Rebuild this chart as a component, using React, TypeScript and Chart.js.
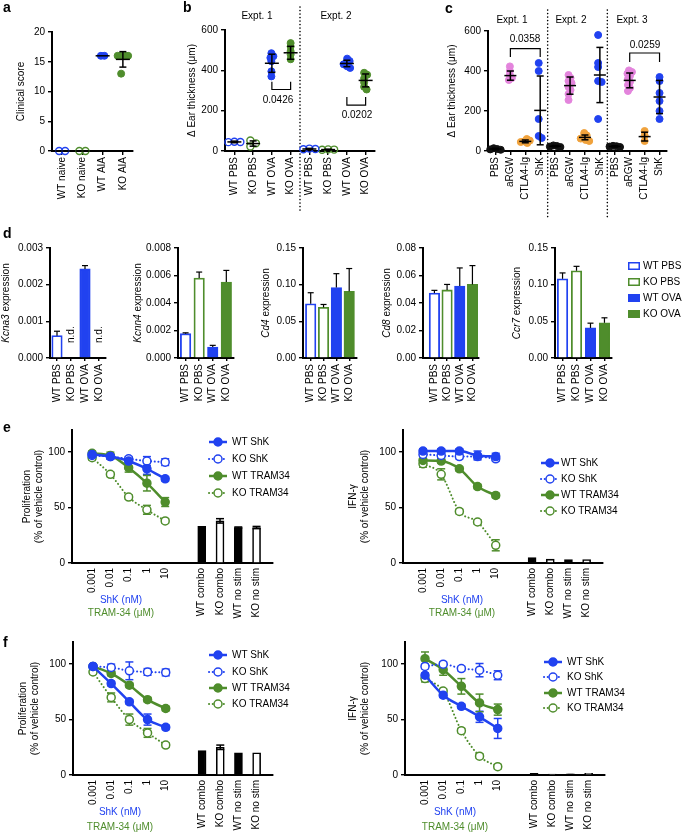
import React, { useEffect, useRef } from 'react';
import { Chart, registerables } from 'chart.js';

Chart.register(...registerables);

const FONT = "'Liberation Sans', Arial, Helvetica, sans-serif";
Chart.defaults.font.family = FONT;
Chart.defaults.font.size = 10;
Chart.defaults.color = '#000';

const BLUE = '#2142f0';
const GREEN = '#4f8d2c';
const PINK = '#e384dc';
const ORANGE = '#f0a23c';
const BLACK = '#111111';

// ================= DATA =================
// panel a
const aLabels = ['WT naive', 'KO naive', 'WT AIA', 'KO AIA'];
const aWTnaive = [0, 0];
const aKOnaive = [0, 0];
const aWTAIA = [16, 16];
const aKOAIA = [16, 16, 16, 16, 13];
const aMeans = [0, 0, 16, 15.4];
const aSDs = [0, 0, 0, 1.3];
const aYTicks = [0, 5, 10, 15, 20];

// panel b
const bLabels = ['WT PBS', 'KO PBS', 'WT OVA', 'KO OVA', 'WT PBS', 'KO PBS', 'WT OVA', 'KO OVA'];
const bE1WTPBS = [46, 44, 45];
const bE1KOPBS = [52, 38, 22];
const bE1WTOVA = [485, 470, 462, 445, 395, 370];
const bE1KOOVA = [535, 518, 495, 478, 455];
const bE2WTPBS = [12, 10, 9];
const bE2KOPBS = [8, 6, 7];
const bE2WTOVA = [458, 446, 438, 430, 420, 412];
const bE2KOOVA = [388, 378, 360, 340, 318, 305];
const bMeans = [45, 37, 435, 487, 10, 7, 434, 350];
const bSDs = [4, 13, 45, 32, 3, 2, 16, 32];
const bYTicks = [0, 200, 400, 600];

// panel c
const cLabels = ['PBS', 'aRGW', 'CTLA4-Ig', 'ShK', 'PBS', 'aRGW', 'CTLA4-Ig', 'ShK', 'PBS', 'aRGW', 'CTLA4-Ig', 'ShK'];
const cE1PBS = [14, 10, 8, 6];
const cE1aRGW = [423, 400, 380, 365, 355];
const cE1CTLA4 = [60, 52, 48, 45, 40];
const cE1ShK = [440, 400, 160, 75, 65];
const cE2PBS = [28, 25, 22, 20];
const cE2aRGW = [380, 365, 350, 340, 320, 305, 285, 255];
const cE2CTLA4 = [90, 78, 70, 62, 55, 50];
const cE2ShK = [580, 440, 420, 350, 345, 160];
const cE3PBS = [26, 24, 20, 22];
const cE3aRGW = [403, 395, 387, 375, 360, 345, 330, 315, 300];
const cE3CTLA4 = [100, 78, 50];
const cE3ShK = [370, 350, 290, 250, 200, 160];
const cMeans = [10, 377, 48, 203, 24, 327, 68, 380, 23, 353, 72, 270];
const cSDs = [4, 23, 7, 172, 3, 43, 12, 138, 3, 37, 22, 83];
const cYTicks = [0, 200, 400, 600];

// panel d
const dLabels = ['WT PBS', 'KO PBS', 'WT OVA', 'KO OVA'];
const kcna3Vals = [0.00061, null, 0.00243, null];
const kcna3Err = [0.00012, 0, 0.00009, 0];
const kcnn4Vals = [0.00177, 0.00582, 0.0008, 0.00553];
const kcnn4Err = [0.00006, 0.00043, 0.00012, 0.00084];
const cd4Vals = [0.074, 0.069, 0.096, 0.091];
const cd4Err = [0.015, 0.004, 0.019, 0.031];
const cd8Vals = [0.0472, 0.0495, 0.0523, 0.0535];
const cd8Err = [0.002, 0.004, 0.0132, 0.0137];
const ccr7Vals = [0.108, 0.119, 0.041, 0.048];
const ccr7Err = [0.008, 0.006, 0.0065, 0.0068];

// panels e / f
const doseLabels = ['0.001', '0.01', '0.1', '1', '10'];
const ctrlLabels = ['WT combo', 'KO combo', 'WT no stim', 'KO no stim'];
const seriesNames = ['WT ShK', 'KO ShK', 'WT TRAM34', 'KO TRAM34'];

const eProWTShK = [98, 96, 92, 85, 76];
const eProWTShKErr = [2, 2, 2, 5, 2];
const eProKOShK = [97, 96, 94, 92, 91];
const eProKOShKErr = [2, 2, 2, 4, 3];
const eProWTTram = [99, 97, 86, 72, 55];
const eProWTTramErr = [2, 3, 4, 7, 4];
const eProKOTram = [95, 80, 59.5, 48, 38];
const eProKOTramErr = [2, 2, 2, 4, 2];
const eProBars = [33, 38, 32, 32];
const eProBarsErr = [0, 2, 0.5, 1];

const eIfnWTShK = [101, 101, 101, 97, 96];
const eIfnWTShKErr = [2, 2, 2, 4, 3];
const eIfnKOShK = [98, 97, 96, 96, 94];
const eIfnKOShKErr = [2, 2, 2, 2, 2];
const eIfnWTTram = [92.5, 92, 85, 69, 61];
const eIfnWTTramErr = [2, 2, 2, 2, 2];
const eIfnKOTram = [89.5, 80, 46.5, 37, 16];
const eIfnKOTramErr = [3, 5, 2, 2, 5];
const eIfnBars = [5, 3.5, 3, 3];
const eIfnBarsErr = [0, 0, 0, 0];

const fProWTShK = [98, 82.5, 66, 50, 43];
const fProWTShKErr = [2, 2, 2, 5, 2];
const fProKOShK = [98, 97, 94, 93, 92.5];
const fProKOShKErr = [2, 3, 8, 3, 3];
const fProWTTram = [98, 91.6, 81, 68, 60];
const fProWTTramErr = [2, 2, 2, 2, 2];
const fProKOTram = [93, 70, 50, 38, 27];
const fProKOTramErr = [2, 4, 5, 4, 2];
const fProBars = [22, 25, 20, 20];
const fProBarsErr = [0, 2, 0, 0];

const fIfnWTShK = [90, 72, 62, 52.5, 42];
const fIfnWTShKErr = [2, 2, 2, 5, 9];
const fIfnKOShK = [98, 100, 96, 94.6, 90];
const fIfnKOShKErr = [2, 2, 2, 6, 4];
const fIfnWTTram = [105, 95, 80, 65, 59];
const fIfnWTTramErr = [6, 5, 7, 8, 5];
const fIfnKOTram = [87, 75.7, 40, 17, 7.5];
const fIfnKOTramErr = [3, 2, 2, 2, 2];
const fIfnBars = [1.5, 0.8, 1, 1.5];
const fIfnBarsErr = [0, 0, 0, 0];

const doseYTicks = [0, 50, 100];

// ================= HELPERS =================
type Rect = { x: number; y: number; w: number; h: number };
type Plot = { l: number; t: number; r: number; b: number };

function seg(ctx: any, x1: number, y1: number, x2: number, y2: number) {
  ctx.beginPath();
  ctx.moveTo(x1, y1);
  ctx.lineTo(x2, y2);
  ctx.stroke();
}

function text(ctx: any, rect: Rect, s: string, x: number, y: number, o: any = {}) {
  ctx.save();
  ctx.font = `${o.italic ? 'italic ' : ''}${o.bold ? 'bold ' : ''}${o.size || 10}px ${FONT}`;
  ctx.fillStyle = o.color || '#000';
  ctx.textAlign = o.align || 'center';
  ctx.textBaseline = o.baseline || 'middle';
  ctx.fillText(s, x - rect.x, y - rect.y);
  ctx.restore();
}

function yTitle(ctx: any, chart: any, rect: Rect, x: number, lines: { t: string; i?: boolean }[][]) {
  const cy = (chart.chartArea.top + chart.chartArea.bottom) / 2;
  lines.forEach((parts, li) => {
    ctx.save();
    ctx.translate(x - rect.x + li * 12, cy);
    ctx.rotate(-Math.PI / 2);
    ctx.textBaseline = 'middle';
    ctx.textAlign = 'left';
    ctx.fillStyle = '#000';
    const fonts = parts.map((p) => `${p.i ? 'italic ' : ''}10px ${FONT}`);
    let total = 0;
    parts.forEach((p, k) => {
      ctx.font = fonts[k];
      total += ctx.measureText(p.t).width;
    });
    let cx = -total / 2;
    parts.forEach((p, k) => {
      ctx.font = fonts[k];
      ctx.fillText(p.t, cx, 0);
      cx += ctx.measureText(p.t).width;
    });
    ctx.restore();
  });
}

function letter(ctx: any, rect: Rect, s: string, x: number, y: number) {
  text(ctx, rect, s, x, y, { bold: true, size: 14, align: 'left', baseline: 'alphabetic' });
}

function swarm(vals: number[], cat: number, pxV: number, pxC: number, minDist: number) {
  const order = vals.map((_, i) => i).sort((p, q) => vals[q] - vals[p]);
  const placed: { dx: number; y: number }[] = [];
  for (const i of order) {
    const y = vals[i] * pxV;
    let best = 0;
    for (let k = 0; k < 80; k++) {
      const cand = k === 0 ? 0 : (k % 2 === 1 ? 1 : -1) * Math.ceil(k / 2) * 0.5;
      if (placed.every((p) => Math.hypot(p.dx - cand, p.y - y) >= minDist - 1e-6)) {
        best = cand;
        break;
      }
    }
    placed.push({ dx: best, y });
  }
  const lo = Math.min(...placed.map((p) => p.dx));
  const hi = Math.max(...placed.map((p) => p.dx));
  const shift = (lo + hi) / 2;
  return placed.map((p) => ({ x: cat + (p.dx - shift) / pxC, y: p.y / pxV }));
}

function swarmSets(groups: number[][], colors: string[], filled: boolean[], plot: Plot, yMin: number, yMax: number, xMin: number, xMax: number) {
  const pxV = (plot.b - plot.t) / (yMax - yMin);
  const pxC = (plot.r - plot.l) / (xMax - xMin);
  return groups.map((g, i) => ({
    type: 'scatter',
    data: swarm(g, i, pxV, pxC, filled[i] ? 3.4 : 6),
    pointRadius: 3.5,
    pointBackgroundColor: filled[i] ? colors[i] : 'rgba(255,255,255,0)',
    pointBorderColor: colors[i],
    pointBorderWidth: filled[i] ? 1 : 1.4,
    showLine: false,
    clip: false,
  }));
}

function meanSD(ctx: any, chart: any, means: number[], sds: number[], half: number, cap: number) {
  const xs = chart.scales.x;
  const ys = chart.scales.y;
  ctx.strokeStyle = '#000';
  ctx.lineWidth = 1.5;
  means.forEach((m, i) => {
    const xc = xs.getPixelForValue(i);
    const ym = ys.getPixelForValue(m);
    seg(ctx, xc - half, ym, xc + half, ym);
    if (sds[i] > 0) {
      const y1 = ys.getPixelForValue(m + sds[i]);
      const y2 = ys.getPixelForValue(Math.max(0, m - sds[i]));
      seg(ctx, xc, y1, xc, y2);
      seg(ctx, xc - cap, y1, xc + cap, y1);
      seg(ctx, xc - cap, y2, xc + cap, y2);
    }
  });
}

function bracket(ctx: any, chart: any, a: number, b: number, yv: number, tipv: number) {
  const xs = chart.scales.x;
  const ys = chart.scales.y;
  const x1 = xs.getPixelForValue(a);
  const x2 = xs.getPixelForValue(b);
  const y = ys.getPixelForValue(yv);
  const yt = ys.getPixelForValue(tipv);
  ctx.strokeStyle = '#000';
  ctx.lineWidth = 1.2;
  ctx.beginPath();
  ctx.moveTo(x1, yt);
  ctx.lineTo(x1, y);
  ctx.lineTo(x2, y);
  ctx.lineTo(x2, yt);
  ctx.stroke();
}

function vdots(ctx: any, chart: any, rect: Rect, v: number, y1: number, y2: number) {
  const x = chart.scales.x.getPixelForValue(v);
  ctx.save();
  ctx.strokeStyle = '#000';
  ctx.lineWidth = 1.6;
  ctx.lineCap = 'round';
  ctx.setLineDash([0.1, 3.4]);
  seg(ctx, x, y1 - rect.y, x, y2 - rect.y);
  ctx.restore();
}

let pid = 0;
function baseConfig(o: any) {
  const { rect, plot } = o;
  const id = 'extras' + pid++;
  return {
    type: 'scatter',
    data: { datasets: o.datasets },
    options: {
      responsive: false,
      maintainAspectRatio: false,
      animation: false,
      devicePixelRatio: 1,
      events: [],
      layout: { padding: { left: 0, top: plot.t - rect.y, right: rect.x + rect.w - plot.r, bottom: 0 } },
      plugins: { legend: { display: false }, tooltip: { enabled: false }, title: { display: false } },
      scales: {
        x: {
          type: 'linear',
          position: 'bottom',
          min: o.xMin,
          max: o.xMax,
          offset: false,
          grid: { display: o.xTickLen > 0, drawOnChartArea: false, drawTicks: o.xTickLen > 0, tickLength: o.xTickLen, color: '#000', lineWidth: 1.4, offset: false },
          border: { display: true, color: '#000', width: 2 },
          afterBuildTicks: (s: any) => {
            s.ticks = o.xTicks.map((v: number) => ({ value: v }));
          },
          afterFit: (s: any) => {
            s.height = rect.y + rect.h - plot.b;
          },
          ticks: {
            autoSkip: false,
            minRotation: 90,
            maxRotation: 90,
            padding: o.xPad,
            color: '#000',
            font: { size: 10, family: FONT },
            callback: (v: any) => o.xLabel(v),
          },
        },
        y: {
          type: 'linear',
          position: 'left',
          min: o.yMin,
          max: o.yMax,
          grid: { display: true, drawOnChartArea: false, drawTicks: true, tickLength: 4, color: '#000', lineWidth: 1.4 },
          border: { display: true, color: '#000', width: 2 },
          afterBuildTicks: (s: any) => {
            s.ticks = o.yTicks.map((v: number) => ({ value: v }));
          },
          afterFit: (s: any) => {
            s.width = plot.l - rect.x;
          },
          ticks: { padding: 3, color: '#000', font: { size: 10, family: FONT }, callback: (v: any) => o.yFmt(v) },
        },
      },
    },
    plugins: [
      {
        id,
        beforeDatasetsDraw(chart: any) {
          if (o.before) {
            const c = chart.ctx;
            c.save();
            o.before(c, chart);
            c.restore();
          }
        },
        afterDatasetsDraw(chart: any) {
          if (o.after) {
            const c = chart.ctx;
            c.save();
            o.after(c, chart);
            c.restore();
          }
        },
      },
    ],
  };
}

// ================= PANELS =================
const EAR = [[{ t: 'Δ Ear thickness (μm)' }]];

function buildA() {
  const rect = { x: 0, y: 0, w: 140, h: 222 };
  const plot = { l: 52, t: 32, r: 133, b: 151 };
  return baseConfig({
    rect, plot, xMin: -0.5, xMax: 3.5, xTicks: [0, 1, 2, 3], xLabel: (v: number) => aLabels[v] ?? '', xTickLen: 4, xPad: 2,
    yMin: 0, yMax: 20, yTicks: aYTicks, yFmt: (v: number) => String(v),
    datasets: swarmSets([aWTnaive, aKOnaive, aWTAIA, aKOAIA], [BLUE, GREEN, BLUE, GREEN], [false, false, true, true], plot, 0, 20, -0.5, 3.5),
    after: (ctx: any, chart: any) => {
      meanSD(ctx, chart, aMeans, aSDs, 7, 3.5);
      yTitle(ctx, chart, rect, 21, [[{ t: 'Clinical score' }]]);
      letter(ctx, rect, 'a', 3, 12);
    },
  });
}

function buildB() {
  const rect = { x: 178, y: 0, w: 207, h: 222 };
  const plot = { l: 225, t: 30, r: 375, b: 151 };
  return baseConfig({
    rect, plot, xMin: -0.5, xMax: 7.5, xTicks: [0, 1, 2, 3, 4, 5, 6, 7], xLabel: (v: number) => bLabels[v] ?? '', xTickLen: 4, xPad: 2,
    yMin: 0, yMax: 600, yTicks: bYTicks, yFmt: (v: number) => String(v),
    datasets: swarmSets(
      [bE1WTPBS, bE1KOPBS, bE1WTOVA, bE1KOOVA, bE2WTPBS, bE2KOPBS, bE2WTOVA, bE2KOOVA],
      [BLUE, GREEN, BLUE, GREEN, BLUE, GREEN, BLUE, GREEN],
      [false, false, true, true, false, false, true, true],
      plot, 0, 600, -0.5, 7.5,
    ),
    before: (ctx: any, chart: any) => {
      vdots(ctx, chart, rect, 3.5, 7, 213);
    },
    after: (ctx: any, chart: any) => {
      meanSD(ctx, chart, bMeans, bSDs, 7, 3.5);
      bracket(ctx, chart, 2, 3, 305, 343);
      bracket(ctx, chart, 6, 7, 227, 268);
      text(ctx, rect, '0.0426', 278, 100);
      text(ctx, rect, '0.0202', 357, 115);
      text(ctx, rect, 'Expt. 1', 257, 16);
      text(ctx, rect, 'Expt. 2', 336, 16);
      yTitle(ctx, chart, rect, 192, EAR);
      letter(ctx, rect, 'b', 183, 12);
    },
  });
}

function buildC() {
  const rect = { x: 438, y: 0, w: 247, h: 225 };
  const plot = { l: 488, t: 31, r: 667, b: 151 };
  const colors = [BLACK, PINK, ORANGE, BLUE, BLACK, PINK, ORANGE, BLUE, BLACK, PINK, ORANGE, BLUE];
  return baseConfig({
    rect, plot, xMin: -0.5, xMax: 11.5, xTicks: [0, 1, 2, 3, 4, 5, 6, 7, 8, 9, 10, 11], xLabel: (v: number) => cLabels[v] ?? '', xTickLen: 4, xPad: 2,
    yMin: 0, yMax: 600, yTicks: cYTicks, yFmt: (v: number) => String(v),
    datasets: swarmSets(
      [cE1PBS, cE1aRGW, cE1CTLA4, cE1ShK, cE2PBS, cE2aRGW, cE2CTLA4, cE2ShK, cE3PBS, cE3aRGW, cE3CTLA4, cE3ShK],
      colors, colors.map(() => true), plot, 0, 600, -0.5, 11.5,
    ),
    before: (ctx: any, chart: any) => {
      vdots(ctx, chart, rect, 3.5, 10, 218);
      vdots(ctx, chart, rect, 7.5, 10, 218);
    },
    after: (ctx: any, chart: any) => {
      meanSD(ctx, chart, cMeans, cSDs, 6, 3.5);
      bracket(ctx, chart, 1, 3, 512, 470);
      bracket(ctx, chart, 9, 11, 490, 445);
      text(ctx, rect, '0.0358', 525, 39);
      text(ctx, rect, '0.0259', 645, 45);
      text(ctx, rect, 'Expt. 1', 512, 20);
      text(ctx, rect, 'Expt. 2', 571, 20);
      text(ctx, rect, 'Expt. 3', 632, 20);
      yTitle(ctx, chart, rect, 452, EAR);
      letter(ctx, rect, 'c', 445, 13);
    },
  });
}

function buildD(o: any) {
  const rect = { x: o.cx, y: 225, w: o.cw, h: 187 };
  const plot = { l: o.l, t: 248, r: o.r, b: 358 };
  const xs = [0, 1, 2, 3];
  return baseConfig({
    rect, plot, xMin: o.xMin, xMax: o.xMax, xTicks: xs, xLabel: (v: number) => dLabels[v] ?? '', xTickLen: 3, xPad: 3,
    yMin: 0, yMax: o.yMax, yTicks: o.yTicks, yFmt: (v: number) => v.toFixed(o.dec),
    datasets: [
      {
        type: 'bar',
        data: o.vals.map((y: any, i: number) => ({ x: i, y })),
        backgroundColor: ['#ffffff', '#ffffff', BLUE, GREEN],
        borderColor: [BLUE, GREEN, BLUE, GREEN],
        borderWidth: 1.8,
        barThickness: 10.5,
        clip: false,
      },
    ],
    after: (ctx: any, chart: any) => {
      const sx = chart.scales.x;
      const sy = chart.scales.y;
      ctx.strokeStyle = '#000';
      ctx.lineWidth = 1.2;
      o.vals.forEach((v: any, i: number) => {
        if (v == null) {
          ctx.save();
          ctx.translate(sx.getPixelForValue(i), sy.getPixelForValue(0) - 15);
          ctx.rotate(-Math.PI / 2);
          ctx.font = `10px ${FONT}`;
          ctx.fillStyle = '#000';
          ctx.textAlign = 'left';
          ctx.textBaseline = 'middle';
          ctx.fillText('n.d.', 0, 0);
          ctx.restore();
          return;
        }
        const x = sx.getPixelForValue(i);
        const y0 = sy.getPixelForValue(v);
        const y1 = sy.getPixelForValue(v + o.errs[i]);
        seg(ctx, x, y0, x, y1);
        seg(ctx, x - 3, y1, x + 3, y1);
      });
      yTitle(ctx, chart, rect, o.tx, [[{ t: o.gene, i: true }, { t: ' expression' }]]);
      if (o.letter) letter(ctx, rect, 'd', 3, 238);
      if (o.legend) {
        const items = [
          { t: 'WT PBS', fill: '#fff', stroke: BLUE },
          { t: 'KO PBS', fill: '#fff', stroke: GREEN },
          { t: 'WT OVA', fill: BLUE, stroke: BLUE },
          { t: 'KO OVA', fill: GREEN, stroke: GREEN },
        ];
        const ys = [266, 282, 298, 314];
        items.forEach((it, k) => {
          const bx = 628 - rect.x;
          const by = ys[k] - rect.y;
          ctx.fillStyle = it.fill;
          ctx.fillRect(bx, by - 4, 12, 8);
          ctx.strokeStyle = it.stroke;
          ctx.lineWidth = 1.5;
          ctx.strokeRect(bx + 0.75, by - 3.25, 10.5, 6.5);
          text(ctx, rect, it.t, 643, ys[k], { align: 'left' });
        });
      }
    },
  });
}

type Series = { label: string; vals: number[]; errs: number[]; color: string; dashed: boolean };

function mkSeries(v: number[][]): Series[] {
  return [
    { label: seriesNames[0], vals: v[0], errs: v[1], color: BLUE, dashed: false },
    { label: seriesNames[1], vals: v[2], errs: v[3], color: BLUE, dashed: true },
    { label: seriesNames[2], vals: v[4], errs: v[5], color: GREEN, dashed: false },
    { label: seriesNames[3], vals: v[6], errs: v[7], color: GREEN, dashed: true },
  ];
}

function buildDose(o: any) {
  const { rect, plot, series } = o;
  const datasets: any[] = series.map((s: Series) => ({
    type: 'line',
    data: s.vals.map((y, i) => ({ x: i, y })),
    borderColor: s.color,
    borderWidth: s.dashed ? 2 : 2.5,
    borderDash: s.dashed ? [0.1, 3.6] : [],
    borderCapStyle: s.dashed ? 'round' : 'butt',
    pointRadius: 4,
    pointBackgroundColor: s.dashed ? '#ffffff' : s.color,
    pointBorderColor: s.color,
    pointBorderWidth: 1.5,
    cubicInterpolationMode: 'monotone',
    fill: false,
    showLine: true,
    clip: false,
  }));
  datasets.push({
    type: 'bar',
    data: o.bars.map((y: number, i: number) => ({ x: 6 + i, y })),
    backgroundColor: ['#000000', '#ffffff', '#000000', '#ffffff'],
    borderColor: '#000000',
    borderWidth: 1.6,
    barThickness: 8,
    clip: false,
  });
  const labels = [...doseLabels, '', ...ctrlLabels];
  return baseConfig({
    rect, plot, xMin: -1.1, xMax: 9.9, xTicks: [0, 1, 2, 3, 4, 6, 7, 8, 9], xLabel: (v: number) => labels[v] ?? '', xTickLen: 0, xPad: 5,
    yMin: 0, yMax: 120, yTicks: doseYTicks, yFmt: (v: number) => String(v),
    datasets,
    before: (ctx: any, chart: any) => {
      const sx = chart.scales.x;
      const sy = chart.scales.y;
      series.forEach((s: Series) => {
        ctx.strokeStyle = s.color;
        ctx.lineWidth = 1.5;
        s.vals.forEach((v, i) => {
          const e = s.errs[i];
          if (!e) return;
          const x = sx.getPixelForValue(i);
          const y1 = sy.getPixelForValue(v + e);
          const y2 = sy.getPixelForValue(v - e);
          seg(ctx, x, y1, x, y2);
          seg(ctx, x - 4, y1, x + 4, y1);
          seg(ctx, x - 4, y2, x + 4, y2);
        });
      });
    },
    after: (ctx: any, chart: any) => {
      const sx = chart.scales.x;
      const sy = chart.scales.y;
      ctx.strokeStyle = '#000';
      ctx.lineWidth = 1.5;
      o.bars.forEach((v: number, i: number) => {
        const e = o.barErrs[i];
        if (!e) return;
        const x = sx.getPixelForValue(6 + i);
        const y1 = sy.getPixelForValue(v + e);
        const y2 = sy.getPixelForValue(v - e);
        seg(ctx, x, y1, x, y2);
        seg(ctx, x - 4, y1, x + 4, y1);
        seg(ctx, x - 4, y2, x + 4, y2);
      });
      // legend
      series.forEach((s: Series, i: number) => {
        const y = o.legY[i] - rect.y;
        const x = o.legM - rect.x;
        ctx.save();
        ctx.strokeStyle = s.color;
        ctx.lineWidth = s.dashed ? 2 : 2.5;
        if (s.dashed) {
          ctx.lineCap = 'round';
          ctx.setLineDash([0.1, 3.6]);
        }
        seg(ctx, x - 9, y, x + 9, y);
        ctx.restore();
        ctx.beginPath();
        ctx.arc(x, y, 4, 0, Math.PI * 2);
        ctx.fillStyle = s.dashed ? '#ffffff' : s.color;
        ctx.fill();
        ctx.strokeStyle = s.color;
        ctx.lineWidth = 1.5;
        ctx.stroke();
        text(ctx, rect, s.label, o.legT, o.legY[i], { align: 'left' });
      });
      text(ctx, rect, 'ShK (nM)', o.axX, o.axY[0], { color: BLUE });
      text(ctx, rect, 'TRAM-34 (μM)', o.axX, o.axY[1], { color: GREEN });
      yTitle(ctx, chart, rect, o.tx, [[{ t: o.title }], [{ t: '(% of vehicle control)' }]]);
      if (o.letter) letter(ctx, rect, o.letter, 3, o.letterY);
    },
  });
}

const charts: { rect: Rect; build: () => any }[] = [
  { rect: { x: 0, y: 0, w: 140, h: 222 }, build: buildA },
  { rect: { x: 178, y: 0, w: 207, h: 222 }, build: buildB },
  { rect: { x: 438, y: 0, w: 247, h: 225 }, build: buildC },
  {
    rect: { x: 0, y: 225, w: 118, h: 187 },
    build: () => buildD({ cx: 0, cw: 118, l: 50, r: 106, xMin: -0.5, xMax: 3.5, yMax: 0.003, yTicks: [0, 0.001, 0.002, 0.003], dec: 3, vals: kcna3Vals, errs: kcna3Err, gene: 'Kcna3', tx: 6, letter: true }),
  },
  {
    rect: { x: 122, y: 225, w: 120, h: 187 },
    build: () => buildD({ cx: 122, cw: 120, l: 178, r: 237, xMin: -0.56, xMax: 3.56, yMax: 0.008, yTicks: [0, 0.002, 0.004, 0.006, 0.008], dec: 3, vals: kcnn4Vals, errs: kcnn4Err, gene: 'Kcnn4', tx: 138 }),
  },
  {
    rect: { x: 250, y: 225, w: 115, h: 187 },
    build: () => buildD({ cx: 250, cw: 115, l: 303, r: 359, xMin: -0.6, xMax: 3.55, yMax: 0.15, yTicks: [0, 0.05, 0.1, 0.15], dec: 2, vals: cd4Vals, errs: cd4Err, gene: 'Cd4', tx: 266 }),
  },
  {
    rect: { x: 370, y: 225, w: 118, h: 187 },
    build: () => buildD({ cx: 370, cw: 118, l: 423, r: 483, xMin: -0.9, xMax: 3.5, yMax: 0.08, yTicks: [0, 0.02, 0.04, 0.06, 0.08], dec: 2, vals: cd8Vals, errs: cd8Err, gene: 'Cd8', tx: 387 }),
  },
  {
    rect: { x: 495, y: 225, w: 190, h: 187 },
    build: () => buildD({ cx: 495, cw: 190, l: 555, r: 612, xMin: -0.54, xMax: 3.54, yMax: 0.15, yTicks: [0, 0.05, 0.1, 0.15], dec: 2, vals: ccr7Vals, errs: ccr7Err, gene: 'Ccr7', tx: 517, legend: true }),
  },
  {
    rect: { x: 0, y: 415, w: 340, h: 212 },
    build: () =>
      buildDose({
        rect: { x: 0, y: 415, w: 340, h: 212 }, plot: { l: 72, t: 430, r: 273, b: 563 },
        series: mkSeries([eProWTShK, eProWTShKErr, eProKOShK, eProKOShKErr, eProWTTram, eProWTTramErr, eProKOTram, eProKOTramErr]),
        bars: eProBars, barErrs: eProBarsErr, legM: 218, legT: 232, legY: [442, 459, 476, 493],
        axX: 121, axY: [600, 613], tx: 27, title: 'Proliferation', letter: 'e', letterY: 432,
      }),
  },
  {
    rect: { x: 340, y: 415, w: 345, h: 212 },
    build: () =>
      buildDose({
        rect: { x: 340, y: 415, w: 345, h: 212 }, plot: { l: 403, t: 430, r: 603, b: 563 },
        series: mkSeries([eIfnWTShK, eIfnWTShKErr, eIfnKOShK, eIfnKOShKErr, eIfnWTTram, eIfnWTTramErr, eIfnKOTram, eIfnKOTramErr]),
        bars: eIfnBars, barErrs: eIfnBarsErr, legM: 550, legT: 561, legY: [463, 479, 495, 511],
        axX: 462, axY: [600, 613], tx: 353, title: 'IFN-γ',
      }),
  },
  {
    rect: { x: 0, y: 627, w: 340, h: 206 },
    build: () =>
      buildDose({
        rect: { x: 0, y: 627, w: 340, h: 206 }, plot: { l: 73, t: 642, r: 273, b: 775 },
        series: mkSeries([fProWTShK, fProWTShKErr, fProKOShK, fProKOShKErr, fProWTTram, fProWTTramErr, fProKOTram, fProKOTramErr]),
        bars: fProBars, barErrs: fProBarsErr, legM: 218, legT: 232, legY: [655, 672, 688, 704],
        axX: 120, axY: [812, 827], tx: 23, title: 'Proliferation', letter: 'f', letterY: 647,
      }),
  },
  {
    rect: { x: 340, y: 627, w: 345, h: 206 },
    build: () =>
      buildDose({
        rect: { x: 340, y: 627, w: 345, h: 206 }, plot: { l: 405, t: 642, r: 605, b: 775 },
        series: mkSeries([fIfnWTShK, fIfnWTShKErr, fIfnKOShK, fIfnKOShKErr, fIfnWTTram, fIfnWTTramErr, fIfnKOTram, fIfnKOTramErr]),
        bars: fIfnBars, barErrs: fIfnBarsErr, legM: 553, legT: 567, legY: [662, 677, 693, 708],
        axX: 455, axY: [812, 827], tx: 353, title: 'IFN-γ',
      }),
  },
];

function ChartCanvas({ rect, build }: { rect: Rect; build: () => any }) {
  const ref = useRef<HTMLCanvasElement>(null);
  useEffect(() => {
    const chart = new Chart(ref.current as HTMLCanvasElement, build());
    return () => chart.destroy();
  }, []);
  return (
    <canvas
      ref={ref}
      width={rect.w}
      height={rect.h}
      style={{ position: 'absolute', left: rect.x, top: rect.y, width: rect.w, height: rect.h }}
    />
  );
}

export default function App() {
  return (
    <div style={{ position: 'absolute', left: 0, top: 0, width: 685, height: 833, background: '#ffffff', overflow: 'hidden' }}>
      {charts.map((c, i) => (
        <ChartCanvas key={i} rect={c.rect} build={c.build} />
      ))}
    </div>
  );
}
